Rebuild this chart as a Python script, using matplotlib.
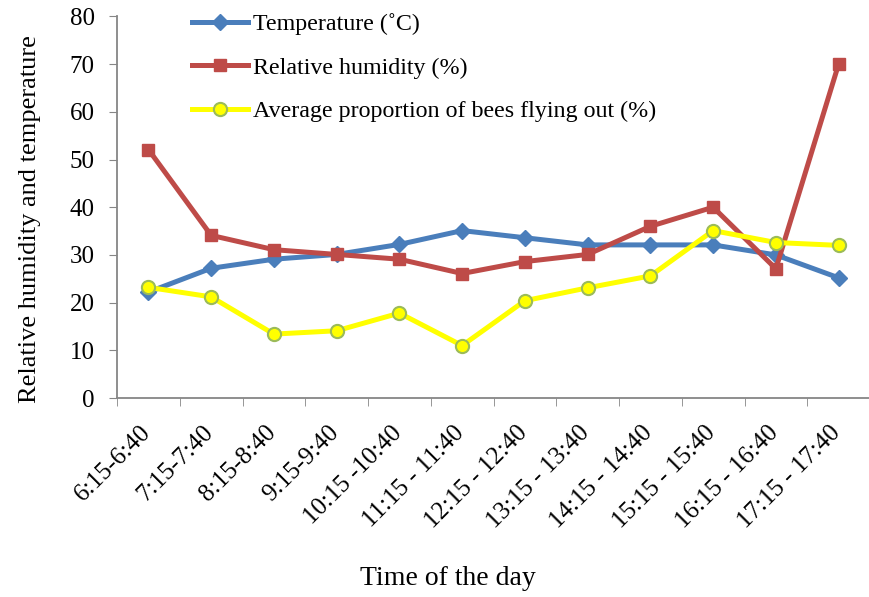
import numpy as np
import matplotlib.pyplot as plt
import matplotlib.transforms as mtransforms

plt.rcParams['font.family'] = ['Liberation Serif', 'DejaVu Serif']

# Datos
periodos = ['6:15-6:40', '7:15-7:40', '8:15-8:40', '9:15-9:40', '10:15 -10:40',
            '11:15 - 11:40', '12:15 - 12:40', '13:15 - 13:40', '14:15 - 14:40',
            '15:15 - 15:40', '16:15 - 16:40', '17:15 - 17:40']
temperatura = [22.2, 27.2, 29.1, 30.1, 32.2, 35.1, 33.6, 32.1, 32.1, 32.1, 30.0, 25.2]
humedad = [52.1, 34.1, 31.1, 30.1, 29.1, 26.1, 28.6, 30.1, 36.0, 40.0, 27.1, 70.0]
abejas = [23.2, 21.2, 13.4, 14.1, 17.8, 11.0, 20.4, 23.1, 25.6, 35.1, 32.6, 32.0]

x = np.arange(len(periodos))

fig = plt.figure(figsize=(8.7, 5.97), dpi=100)
ax = fig.add_axes([0.1345, 0.3333, 0.8655, 0.6392])

ax.plot(x, temperatura, color='#4A7EBB', lw=3.6, marker='D', ms=8,
        mfc='#4A7EBB', mec='#4A7EBB', label='Temperature (˚C)', zorder=3)
ax.plot(x, humedad, color='#BE4B48', lw=3.6, marker='s', ms=8,
        mfc='#BE4B48', mec='#BE4B48', label='Relative humidity (%)', zorder=3)
ax.plot(x, abejas, color='#FFFF00', lw=3.6, marker='o', ms=9.5,
        mfc='#FFFF00', mec='#9BBB59', mew=1.5,
        label='Average proportion of bees flying out (%)', zorder=4)

ax.set_xlim(-0.5, 11.34)
ax.set_ylim(0, 80)
ax.set_yticks(range(0, 81, 10))
ax.set_xticks(x)
ax.set_xticks(np.arange(-0.5, 11.6, 1), minor=True)
ax.tick_params(axis='x', which='major', length=0, pad=17)
ax.tick_params(axis='x', which='minor', length=6, color='#868686', direction='out')
ax.tick_params(axis='y', length=6, color='#868686', direction='out', labelsize=18, pad=10)

ax.set_xticklabels(periodos, rotation=45, ha='right', va='top',
                   rotation_mode='anchor', fontsize=18)
desplaz = mtransforms.ScaledTranslation(-0.09, 0, fig.dpi_scale_trans)
for lab in ax.get_xticklabels():
    lab.set_transform(lab.get_transform() + desplaz)

for s in ['top', 'right']:
    ax.spines[s].set_visible(False)
for s in ['left', 'bottom']:
    ax.spines[s].set_color('#868686')
    ax.spines[s].set_linewidth(1.3)

fig.text(0.034, 0.633, 'Relative humidity and temperature', fontsize=19,
         rotation=90, ha='center', va='center')
fig.text(0.515, 0.031, 'Time of the day', fontsize=20, ha='center', va='center')

ax.legend(loc='upper left', bbox_to_anchor=(0.0996, 1.008), frameon=False,
          fontsize=17.3, handlelength=2.35, labelspacing=0.9, handletextpad=0.17,
          borderpad=0, borderaxespad=0)

plt.savefig('out.png', dpi=100)
